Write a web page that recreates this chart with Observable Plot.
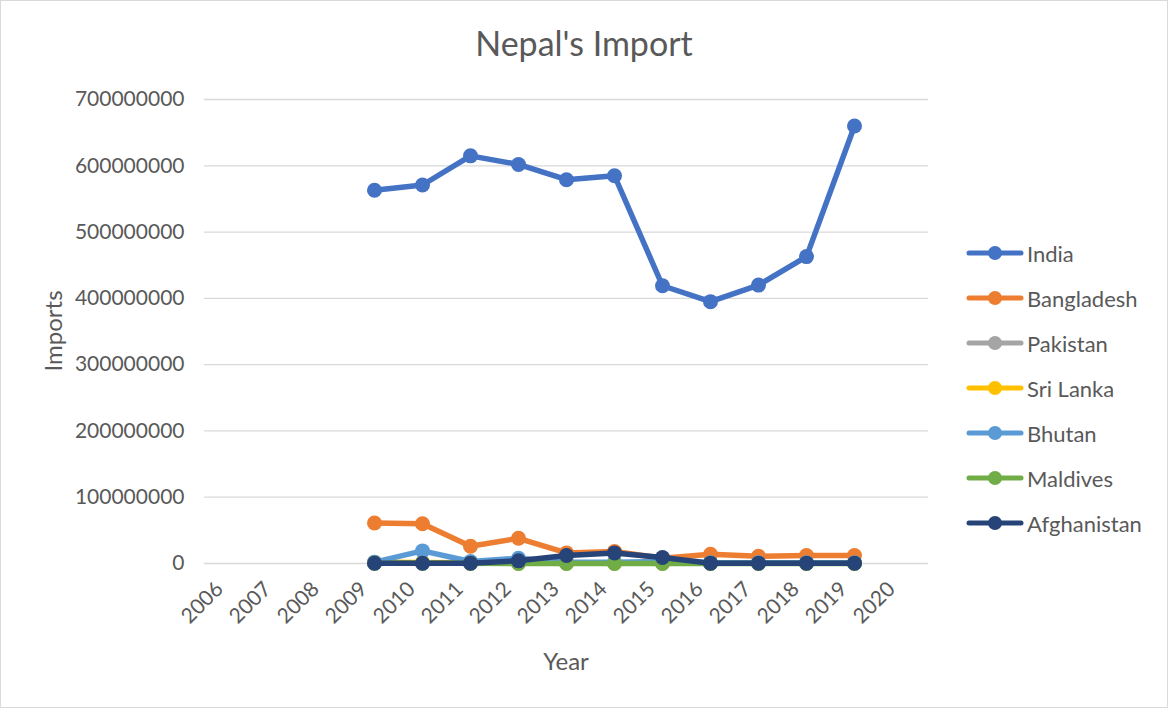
<!DOCTYPE html>
<html>
<head>
<meta charset="utf-8">
<script src="https://cdn.jsdelivr.net/npm/d3@7"></script>
<script src="https://cdn.jsdelivr.net/npm/@observablehq/plot@0.6"></script>
<style>
  body { margin: 0; background: #fff; font-family: Lato, "Open Sans", sans-serif; }
  #wrap { position: relative; width: 1168px; height: 708px; overflow: hidden; background: #fff; }
  #wrap > svg { position: absolute; left: 0; top: 0; }
  #border { position: absolute; left: 0; top: 0; width: 1166px; height: 706px; border: 1px solid #d9d9d9; pointer-events: none; }
  .title { position: absolute; top: 22px; left: 0; width: 1168px; text-align: center; font-size: 34px; color: #595959; }
  .ytitle { position: absolute; left: 52px; top: 331px; transform: translate(-50%, -50%) rotate(-90deg); font-size: 24px; color: #595959; white-space: nowrap; }
  .xtitle { position: absolute; left: 566px; top: 660px; transform: translate(-50%, -50%); font-size: 24px; color: #595959; }
  .leg { position: absolute; left: 966px; height: 30px; display: flex; align-items: center; font-size: 22px; color: #595959; white-space: nowrap; }
  #wrap .leg svg { position: static; margin-right: 3px; flex: none; }
</style>
</head>
<body>
<div id="wrap">
  <div class="title">Nepal's Import</div>
  <div class="ytitle">Imports</div>
  <div class="xtitle">Year</div>
</div>
<script>
// Category axis labels
const years = ["2006","2007","2008","2009","2010","2011","2012","2013","2014","2015","2016","2017","2018","2019","2020"];
// Years with data
const dataYears = ["2009","2010","2011","2012","2013","2014","2015","2016","2017","2018","2019"];
const yTicks = [0, 100000000, 200000000, 300000000, 400000000, 500000000, 600000000, 700000000];

const countries = ["India","Bangladesh","Pakistan","Sri Lanka","Bhutan","Maldives","Afghanistan"];
const colors = ["#4472C4","#ED7D31","#A5A5A5","#FFC000","#5B9BD5","#70AD47","#264478"];

const india       = [563000000, 571000000, 615000000, 602000000, 579000000, 585000000, 419000000, 395000000, 420000000, 463000000, 660000000];
const bangladesh  = [61000000, 60000000, 26000000, 38000000, 16000000, 18000000, 8000000, 14000000, 11000000, 12000000, 12000000];
const pakistan    = [1000000, 800000, 600000, 500000, 400000, 400000, 300000, 300000, 300000, 300000, 300000];
const sriLanka    = [2000000, 1500000, 1000000, 600000, 500000, 500000, 400000, 400000, 400000, 400000, 400000];
const bhutan      = [2000000, 19000000, 3000000, 8000000, 2000000, 2000000, 3000000, 1000000, 1000000, 1000000, 1000000];
const maldives    = [200000, 200000, 200000, 100000, 100000, 100000, 100000, 100000, 100000, 100000, 100000];
const afghanistan = [300000, 300000, 500000, 4000000, 12000000, 16000000, 9000000, 500000, 500000, 500000, 500000];

const seriesValues = [india, bangladesh, pakistan, sriLanka, bhutan, maldives, afghanistan];

const seriesMarks = [];
countries.forEach((c, i) => {
  const rows = dataYears.map((y, j) => ({year: y, value: seriesValues[i][j], country: c}));
  seriesMarks.push(Plot.line(rows, {x: "year", y: "value", stroke: colors[i], strokeWidth: 5.5, strokeLinejoin: "round", strokeLinecap: "round"}));
  seriesMarks.push(Plot.dot(rows, {x: "year", y: "value", r: 7.5, fill: colors[i], stroke: "none"}));
});

const chart = Plot.plot({
  width: 1168,
  height: 708,
  marginLeft: 204,
  marginRight: 240,
  marginTop: 99,
  marginBottom: 145,
  style: {background: "transparent", fontFamily: "Lato, 'Open Sans', sans-serif", fontSize: "21px", color: "#595959"},
  x: {type: "point", domain: years, padding: 0.5, label: null},
  y: {domain: [0, 700000000], label: null},
  marks: [
    Plot.gridY(yTicks, {stroke: "#d9d9d9", strokeOpacity: 1, strokeWidth: 1.3}),
    Plot.axisY(yTicks, {tickSize: 0, tickPadding: 20, tickFormat: d => String(d), label: null, fontSize: 21, fill: "#595959"}),
    Plot.axisX(years, {tickSize: 0, tickRotate: -45, tickPadding: 22, dx: -11, label: null, fontSize: 21, fill: "#595959"}),
    ...seriesMarks
  ]
});
const wrap = document.getElementById("wrap");
wrap.appendChild(chart);

// Legend
const legendY = [253, 298, 343, 388, 433, 478, 523];
countries.forEach((c, i) => {
  const d = document.createElement("div");
  d.className = "leg";
  d.style.top = (legendY[i] - 15) + "px";
  d.innerHTML = `<svg width="58" height="18"><line x1="3" y1="9" x2="55" y2="9" stroke="${colors[i]}" stroke-width="5" stroke-linecap="round"/><circle cx="29" cy="9" r="7" fill="${colors[i]}"/></svg><span>${c}</span>`;
  wrap.appendChild(d);
});
const b = document.createElement("div");
b.id = "border";
wrap.appendChild(b);
</script>
</body>
</html>
